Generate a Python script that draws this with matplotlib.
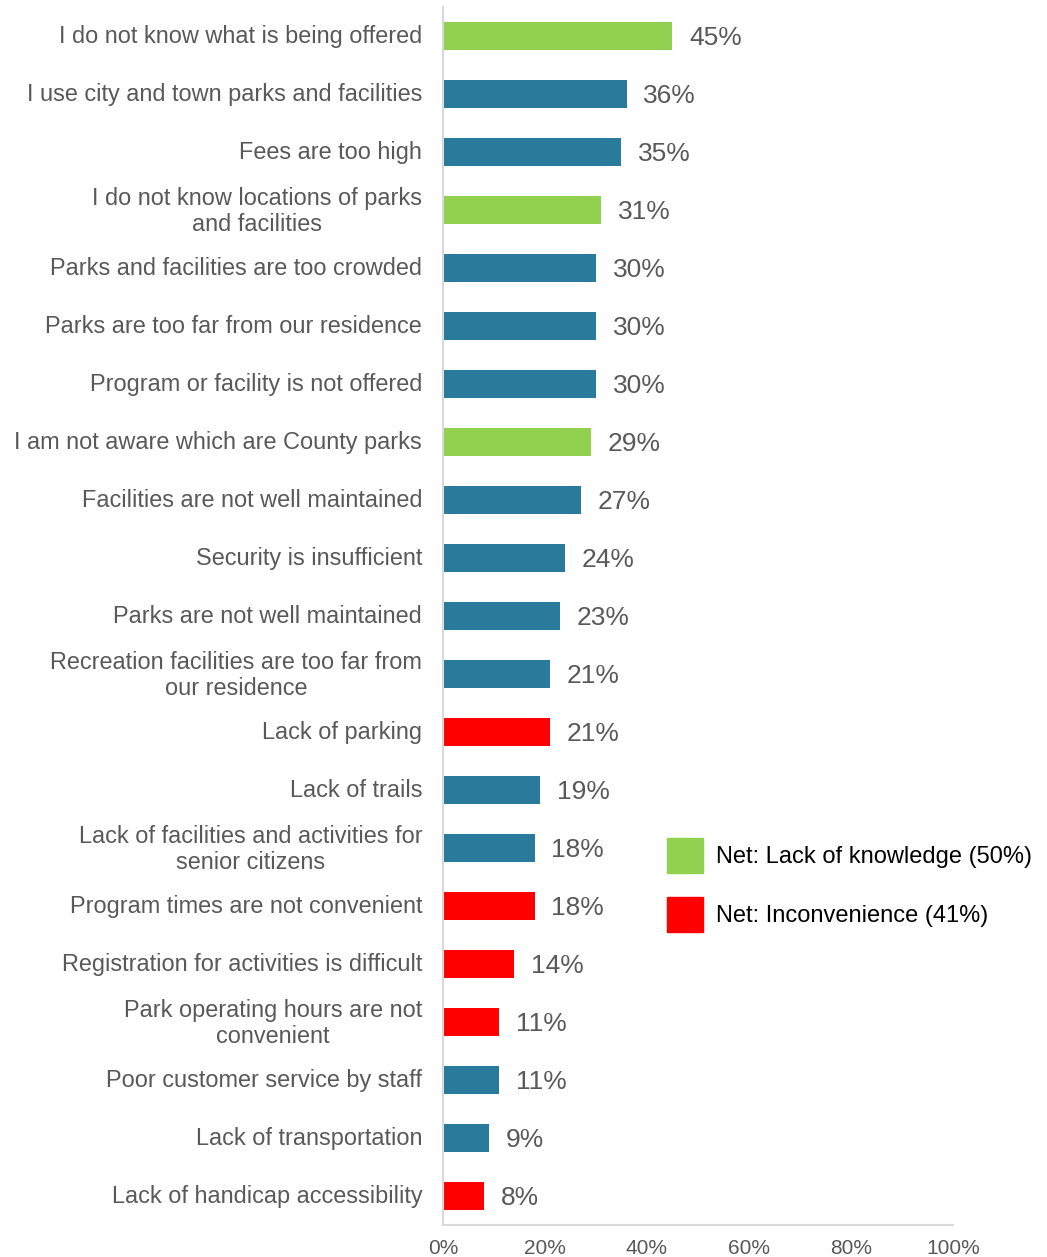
import matplotlib.pyplot as plt
from matplotlib.patches import Patch
from matplotlib.transforms import ScaledTranslation

# survey data (percent of respondents)
labels = [
    'I do not know what is being offered',
    'I use city and town parks and facilities',
    'Fees are too high',
    'I do not know locations of parks\nand facilities',
    'Parks and facilities are too crowded',
    'Parks are too far from our residence',
    'Program or facility is not offered',
    'I am not aware which are County parks',
    'Facilities are not well maintained',
    'Security is insufficient',
    'Parks are not well maintained',
    'Recreation facilities are too far from\nour residence',
    'Lack of parking',
    'Lack of trails',
    'Lack of facilities and activities for\nsenior citizens',
    'Program times are not convenient',
    'Registration for activities is difficult',
    'Park operating hours are not\nconvenient',
    'Poor customer service by staff',
    'Lack of transportation',
    'Lack of handicap accessibility',
]
values = [45, 36, 35, 31, 30, 30, 30, 29, 27, 24, 23, 21, 21, 19, 18, 18, 14, 11, 11, 9, 8]
# k = lack of knowledge, i = inconvenience, o = other
groups = ['k', 'o', 'o', 'k', 'o', 'o', 'o', 'k', 'o', 'o', 'o', 'o', 'i', 'o', 'o', 'i', 'i', 'i', 'o', 'o', 'i']
legend_labels = ['Net: Lack of knowledge (50%)', 'Net: Inconvenience (41%)']

group_colors = {'k': '#92D050', 'i': '#FF0000', 'o': '#2A7B9B'}
text_gray = '#595959'

plt.rcParams['font.family'] = ['Liberation Sans', 'DejaVu Sans']

fig = plt.figure(figsize=(10.47, 12.57), dpi=100)
ax = fig.add_axes([0.4231, 0.02546, 0.4871, 0.96897])

ypos = list(range(len(labels)))
colors = [group_colors[g] for g in groups]
bars = ax.barh(ypos, values, height=0.47, color=colors)

for b, v in zip(bars, values):
    ax.annotate(f'{v}%', (b.get_width(), b.get_y() + b.get_height() / 2),
                xytext=(12, -1.5), textcoords='offset points',
                va='center', ha='left', fontsize=19, color=text_gray)

ax.set_ylim(len(labels) - 0.5, -0.5)
ax.set_xlim(0, 100)
ax.set_yticks(ypos)
ax.set_yticklabels(labels, fontsize=16.9, color=text_gray, multialignment='center',
                   linespacing=1.15)
ax.set_xticks([0, 20, 40, 60, 80, 100])
ax.set_xticklabels([f'{t}%' for t in [0, 20, 40, 60, 80, 100]], fontsize=15, color=text_gray)
ax.tick_params(axis='y', length=0, pad=15)
ax.tick_params(axis='x', length=0, pad=10)
# nudge category labels up a touch
for t in ax.get_yticklabels():
    t.set_transform(t.get_transform() + ScaledTranslation(0, 1.5 / 72, fig.dpi_scale_trans))

for s in ['top', 'right']:
    ax.spines[s].set_visible(False)
for s in ['left', 'bottom']:
    ax.spines[s].set_color('#D9D9D9')
    ax.spines[s].set_linewidth(1.5)

handles = [Patch(color=group_colors['k']), Patch(color=group_colors['i'])]
fig.legend(handles, legend_labels, loc='upper left', bbox_to_anchor=(0.637, 0.3333),
           frameon=False, fontsize=17, handlelength=1.53, handleheight=1.9,
           handletextpad=0.55, labelspacing=1.0, borderpad=0, borderaxespad=0)

fig.savefig('out.png', dpi=100)
